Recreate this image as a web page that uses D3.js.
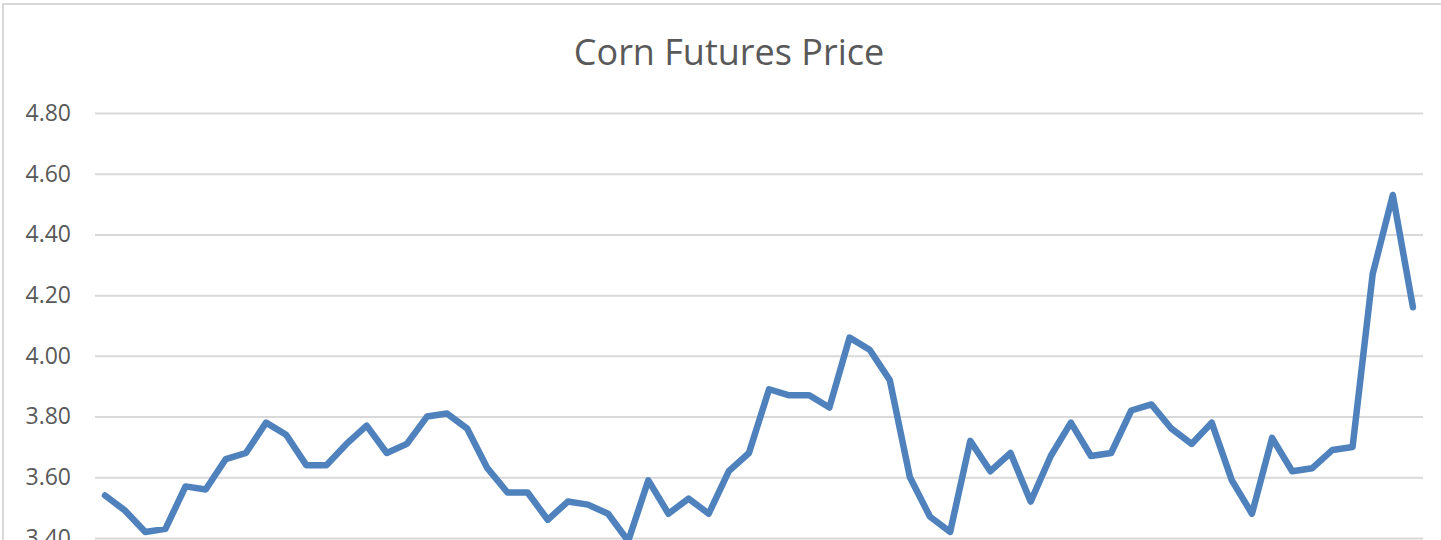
<!DOCTYPE html>
<html>
<head>
<meta charset="utf-8">
<script src="https://cdn.jsdelivr.net/npm/d3@7"></script>
<style>
  html, body { margin: 0; padding: 0; background: #fff; overflow: hidden; }
  svg { display: block; }
</style>
</head>
<body>
<svg id="chart" width="1441" height="540"></svg>
<script>
// --- données ---
const title = "Corn Futures Price";
const prices = [
  3.54, 3.49, 3.42, 3.43, 3.57, 3.56, 3.66, 3.68, 3.78, 3.74,
  3.64, 3.64, 3.71, 3.77, 3.68, 3.71, 3.80, 3.81, 3.76, 3.63,
  3.55, 3.55, 3.46, 3.52, 3.51, 3.48, 3.39, 3.59, 3.48, 3.53,
  3.48, 3.62, 3.68, 3.89, 3.87, 3.87, 3.83, 4.06, 4.02, 3.92,
  3.60, 3.47, 3.42, 3.72, 3.62, 3.68, 3.52, 3.67, 3.78, 3.67,
  3.68, 3.82, 3.84, 3.76, 3.71, 3.78, 3.59, 3.48, 3.73, 3.62,
  3.63, 3.69, 3.70, 4.27, 4.53, 4.16
];
const periods = prices.map((d, i) => i + 1);
const yTicks = [3.40, 3.60, 3.80, 4.00, 4.20, 4.40, 4.60, 4.80];

const svg = d3.select("#chart");

// cadre du graphique
svg.append("rect")
  .attr("x", 3).attr("y", 4)
  .attr("width", 1460).attr("height", 560)
  .attr("fill", "#fff")
  .attr("stroke", "#d9d9d9")
  .attr("stroke-width", 2);

const x = d3.scalePoint()
  .domain(periods)
  .range([95, 1423])
  .padding(0.5);

const y = d3.scaleLinear()
  .domain([3.40, 4.80])
  .range([538, 113]);

// grille + étiquettes Y
const yAxis = d3.axisLeft(y)
  .tickValues(yTicks)
  .tickFormat(d3.format(".2f"))
  .tickSize(-(1423 - 95))
  .tickPadding(24);

const gy = svg.append("g")
  .attr("transform", "translate(95,0)")
  .call(yAxis);
gy.select(".domain").remove();
gy.selectAll(".tick line")
  .attr("stroke", "#d9d9d9")
  .attr("stroke-width", 2);
gy.selectAll(".tick text")
  .attr("fill", "#595959")
  .style("font-family", "'Open Sans', sans-serif")
  .style("font-size", "23px");

// titre
svg.append("text")
  .attr("x", 729)
  .attr("y", 65)
  .attr("text-anchor", "middle")
  .attr("fill", "#595959")
  .style("font-family", "'Open Sans', sans-serif")
  .style("font-size", "36px")
  .text(title);

// courbe
const line = d3.line()
  .x((d, i) => x(periods[i]))
  .y(d => y(d));

svg.append("path")
  .datum(prices)
  .attr("fill", "none")
  .attr("stroke", "#4f81bd")
  .attr("stroke-width", 6.5)
  .attr("stroke-linejoin", "round")
  .attr("stroke-linecap", "round")
  .attr("d", line);
</script>
</body>
</html>
